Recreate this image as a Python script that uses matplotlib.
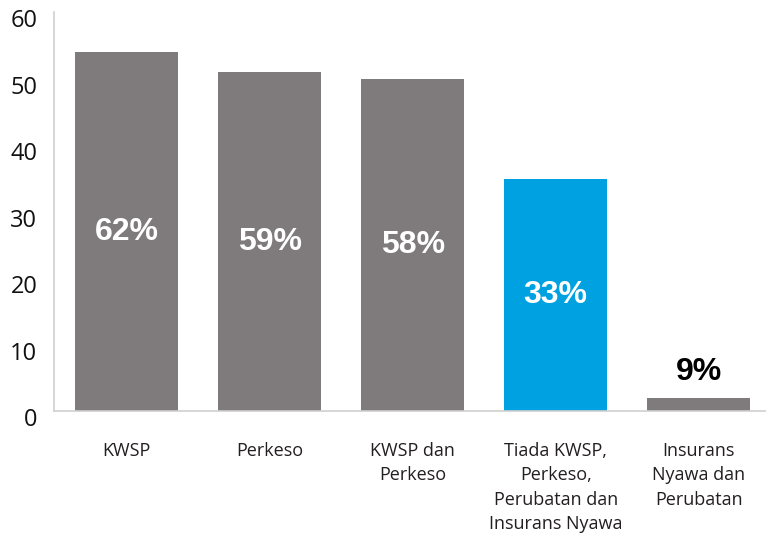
import matplotlib.pyplot as plt
from matplotlib.transforms import ScaledTranslation

categories = ['KWSP', 'Perkeso', 'KWSP dan\nPerkeso',
              'Tiada KWSP,\nPerkeso,\nPerubatan dan\nInsurans Nyawa',
              'Insurans\nNyawa dan\nPerubatan']
values = [54, 51, 50, 35, 2]
labels = ['62%', '59%', '58%', '33%', '9%']
colors = ['#7f7b7c', '#7f7b7c', '#7f7b7c', '#00a1e1', '#7f7b7c']

fig = plt.figure(figsize=(7.66, 5.36), dpi=100)
ax = fig.add_axes([0.0705, 0.2323, 0.9295, 0.7444])

x = range(len(categories))
bars = ax.bar(x, values, width=0.72, color=colors)

# etiquettes: blanc dans la barre, noir au-dessus pour la petite
for i, b in enumerate(bars):
    h = b.get_height()
    if h > 10:
        ax.text(b.get_x() + b.get_width()/2, h/2, labels[i], ha='center', va='center',
                color='white', fontsize=23, fontweight='bold', family='Liberation Sans')
    else:
        ax.annotate(labels[i], (b.get_x() + b.get_width()/2, h), xytext=(0, 8),
                    textcoords='offset points', ha='center', va='bottom',
                    color='black', fontsize=23, fontweight='bold', family='Liberation Sans')

ax.set_xlim(-0.507, 4.47)
ax.set_ylim(0, 60)
ax.set_yticks(range(0, 61, 10))
ax.set_xticks(list(x))
ax.set_xticklabels(categories, fontsize=13, family='Open Sans', color='#231f20',
                   linespacing=1.45, va='top')
ax.tick_params(axis='x', length=0, pad=22)
ax.tick_params(axis='y', length=0, pad=12, labelsize=17, labelcolor='#111111')
for lab in ax.get_yticklabels():
    lab.set_family('Open Sans')
    lab.set_transform(lab.get_transform() + ScaledTranslation(0, -6/100, fig.dpi_scale_trans))

for s in ['top', 'right']:
    ax.spines[s].set_visible(False)
ax.spines['left'].set_color('#d0d0d0')
ax.spines['bottom'].set_color('#d0d0d0')
ax.spines['left'].set_linewidth(1.2)
ax.spines['bottom'].set_linewidth(1.2)

plt.savefig('out.png', dpi=100)
